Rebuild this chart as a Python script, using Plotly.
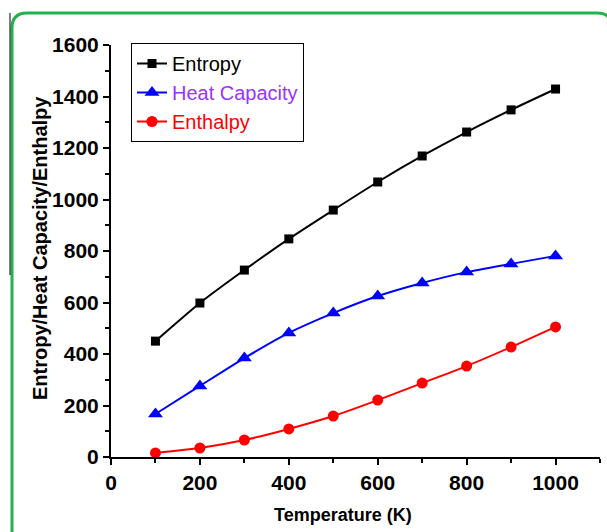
import plotly.graph_objects as go

temperature = [100, 200, 300, 400, 500, 600, 700, 800, 900, 1000]
entropy = [450, 598, 726, 847, 959, 1068, 1169, 1262, 1348, 1429]
heat_capacity = [167, 276, 384, 482, 559, 625, 676, 718, 750, 781]
enthalpy = [16, 35, 66, 109, 159, 221, 287, 353, 427, 505]

W, H = 607, 532
L, R, T, B = 111, 7, 45, 75
pw, ph = W - L - R, H - T - B


def px(x):
    return (x - L) / pw


def py(y):
    return (H - B - y) / ph


FONT = "Liberation Sans, Arial, sans-serif"

fig = go.Figure()
fig.add_trace(go.Scatter(x=temperature, y=entropy, mode="lines+markers",
                         name="Entropy", line=dict(color="black", width=2, shape="spline", smoothing=0.6),
                         marker=dict(symbol="square", size=9, color="black")))
fig.add_trace(go.Scatter(x=temperature, y=heat_capacity, mode="lines+markers",
                         name='<span style="color:#9933ff">Heat Capacity</span>',
                         line=dict(color="#0000ff", width=2, shape="spline", smoothing=0.6),
                         marker=dict(symbol="triangle-up", size=13, color="#0000ff")))
fig.add_trace(go.Scatter(x=temperature, y=enthalpy, mode="lines+markers",
                         name='<span style="color:#ff0000">Enthalpy</span>',
                         line=dict(color="#ff0000", width=2, shape="spline", smoothing=0.6),
                         marker=dict(symbol="circle", size=11, color="#ff0000")))

# green rounded frame
x0, y0, x1, y1, r = px(12), py(13), px(612), py(546), 15
rx, ry = r / pw, r / ph
path = (f"M {x0},{y0 - ry} Q {x0},{y0} {x0 + rx},{y0} L {x1 - rx},{y0} Q {x1},{y0} {x1},{y0 - ry} "
        f"L {x1},{y1 + ry} Q {x1},{y1} {x1 - rx},{y1} L {x0 + rx},{y1} Q {x0},{y1} {x0},{y1 + ry} Z")
shapes = [
    dict(type="path", xref="paper", yref="paper", path=path,
         line=dict(color="#22b14c", width=3), fillcolor="rgba(0,0,0,0)", layer="below"),
    dict(type="line", xref="paper", yref="paper", x0=px(10), x1=px(10), y0=py(13), y1=py(275),
         line=dict(color="black", width=1)),
]

annotations = [
    dict(text="<b>Temperature (K)</b>", xref="paper", yref="paper", x=px(343), y=py(515),
         showarrow=False, xanchor="center", yanchor="middle",
         font=dict(family=FONT, size=18, color="black")),
    dict(text="<b>Entropy/Heat Capacity/Enthalpy</b>", xref="paper", yref="paper", x=px(40), y=py(248),
         showarrow=False, xanchor="center", yanchor="middle", textangle=-90,
         font=dict(family=FONT, size=20, color="black")),
]

tickfont = dict(family=FONT, size=21, color="black", weight="bold")
fig.update_layout(
    width=W, height=H,
    margin=dict(l=L, r=R, t=T, b=B),
    paper_bgcolor="white", plot_bgcolor="white",
    shapes=shapes,
    annotations=annotations,
    showlegend=True,
    legend=dict(x=px(131), y=py(43), xanchor="left", yanchor="top",
                bordercolor="black", borderwidth=1, bgcolor="white",
                font=dict(family=FONT, size=20, color="black"),
                tracegroupgap=0, itemwidth=30),
    xaxis=dict(range=[0, 1100], tickvals=[0, 200, 400, 600, 800, 1000],
               showgrid=False, zeroline=False, showline=True, linecolor="black", linewidth=2,
               ticks="outside", ticklen=6, tickwidth=1.5, tickcolor="black",
               minor=dict(tickvals=[100, 300, 500, 700, 900, 1100], ticklen=4, tickwidth=1.5, tickcolor="black", ticks="outside"),
               tickfont=tickfont),
    yaxis=dict(range=[0, 1600], tickvals=[0, 200, 400, 600, 800, 1000, 1200, 1400, 1600],
               showgrid=False, zeroline=False, showline=True, linecolor="black", linewidth=2,
               ticks="outside", ticklen=6, tickwidth=1.5, tickcolor="black",
               minor=dict(tickvals=[100, 300, 500, 700, 900, 1100, 1300, 1500], ticklen=4, tickwidth=1.5, tickcolor="black", ticks="outside"),
               tickfont=tickfont),
)

fig.write_html("out.html")
